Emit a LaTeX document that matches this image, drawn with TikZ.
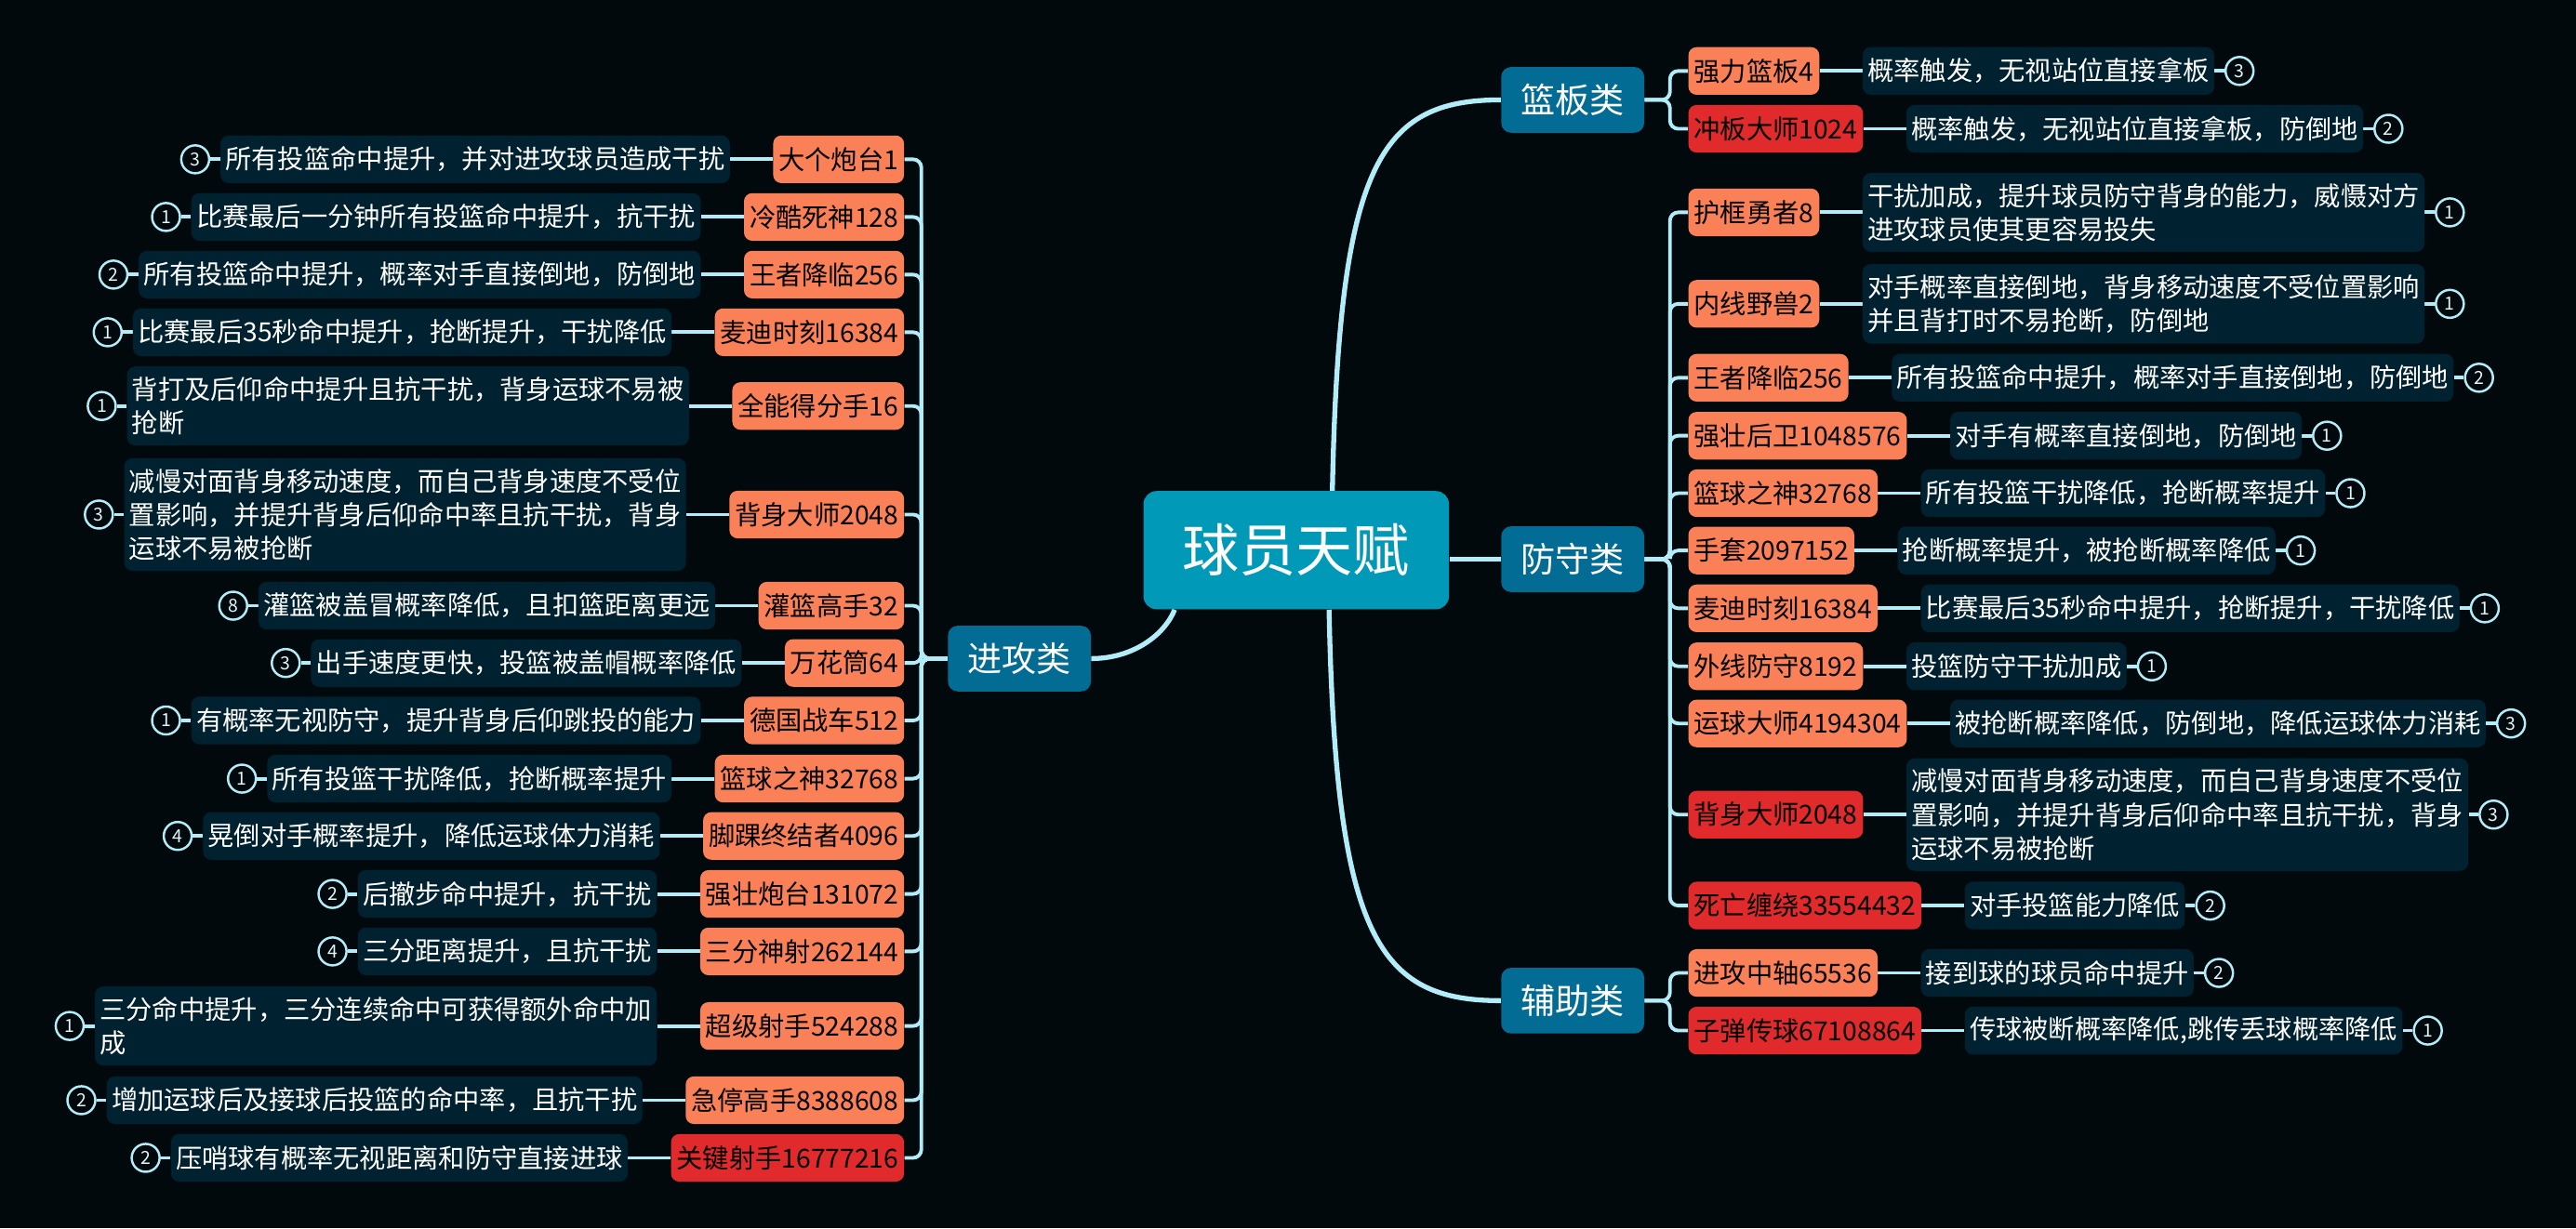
\documentclass[tikz,border=0pt]{standalone}
\usepackage{fontspec}
\setmainfont{Noto Sans CJK SC}
\usetikzlibrary{positioning,calc}
\definecolor{bgc}{RGB}{2,9,12}
\definecolor{linec}{RGB}{178,236,248}
\definecolor{orangec}{RGB}{250,128,87}
\definecolor{redc}{RGB}{224,42,43}
\definecolor{catc}{RGB}{2,108,148}
\definecolor{centc}{RGB}{0,153,184}
\definecolor{descc}{RGB}{0,34,48}
\definecolor{numtext}{RGB}{225,245,250}
\pgfdeclarelayer{back}
\pgfdeclarelayer{edges}
\pgfsetlayers{back,edges,main}
\begin{document}
\begin{tikzpicture}[x=1pt,y=-1pt,
  central/.style={fill=centc, rounded corners=8pt, text=white, minimum width=186pt, minimum height=72pt, inner sep=0pt, font=\fontsize{34.6}{40}\selectfont},
  cat/.style={fill=catc, rounded corners=6pt, text=white, minimum width=87pt, minimum height=40pt, inner sep=0pt, font=\fontsize{21}{25}\selectfont},
  tag/.style={rounded corners=5pt, text=black, minimum height=29pt, inner xsep=3.4pt, inner ysep=0pt, font=\fontsize{16}{20.5}\selectfont},
  otag/.style={tag, fill=orangec},
  rtag/.style={tag, fill=redc},
  desc/.style={fill=descc, rounded corners=5pt, text=white, inner xsep=3pt, inner ysep=6.3pt, minimum height=29pt, align=left, font=\fontsize{16}{20.5}\selectfont},
  num/.style={circle, draw=linec, line width=1.4pt, fill=bgc, text=numtext, minimum size=17pt, inner sep=0pt, font=\fontsize{11}{12}\selectfont},
  mainline/.style={draw=linec, line width=3pt},
  br/.style={draw=linec, line width=2.2pt, rounded corners=5pt}
]
\begin{pgfonlayer}{back}
\fill[bgc] (0,0) rectangle (1568,748);
\end{pgfonlayer}
\useasboundingbox (0,0) rectangle (1568,748);

% central and categories
\node[central] (c) at (789,335) {球员天赋};
\node[cat] (ban) at (957.3,60.8) {篮板类};
\node[cat] (def) at (957.3,340.5) {防守类};
\node[cat] (aux) at (957.3,609.3) {辅助类};
\node[cat] (att) at (620.5,401) {进攻类};

% ---- right side: 篮板类
\node[otag, anchor=west] (r1) at (1027.5,43.2) {强力篮板4};
\node[desc, right=26pt of r1] (rd1) {概率触发，无视站位直接拿板};
\node[num, right=6pt of rd1] (rn1) {3};
\node[rtag, anchor=west] (r2) at (1027.5,78.4) {冲板大师1024};
\node[desc, right=26pt of r2] (rd2) {概率触发，无视站位直接拿板，防倒地};
\node[num, right=6pt of rd2] (rn2) {2};

% ---- right side: 防守类
\node[otag, anchor=west] (r3) at (1027.5,129.3) {护框勇者8};
\node[desc, right=26pt of r3] (rd3) {干扰加成，提升球员防守背身的能力，威慑对方\\进攻球员使其更容易投失};
\node[num, right=6pt of rd3] (rn3) {1};
\node[otag, anchor=west] (r4) at (1027.5,185) {内线野兽2};
\node[desc, right=26pt of r4] (rd4) {对手概率直接倒地，背身移动速度不受位置影响\\并且背打时不易抢断，防倒地};
\node[num, right=6pt of rd4] (rn4) {1};
\node[otag, anchor=west] (r5) at (1027.5,230) {王者降临256};
\node[desc, right=26pt of r5] (rd5) {所有投篮命中提升，概率对手直接倒地，防倒地};
\node[num, right=6pt of rd5] (rn5) {2};
\node[otag, anchor=west] (r6) at (1027.5,265.3) {强壮后卫1048576};
\node[desc, right=26pt of r6] (rd6) {对手有概率直接倒地，防倒地};
\node[num, right=6pt of rd6] (rn6) {1};
\node[otag, anchor=west] (r7) at (1027.5,300.3) {篮球之神32768};
\node[desc, right=26pt of r7] (rd7) {所有投篮干扰降低，抢断概率提升};
\node[num, right=6pt of rd7] (rn7) {1};
\node[otag, anchor=west] (r8) at (1027.5,335.2) {手套2097152};
\node[desc, right=26pt of r8] (rd8) {抢断概率提升，被抢断概率降低};
\node[num, right=6pt of rd8] (rn8) {1};
\node[otag, anchor=west] (r9) at (1027.5,370.4) {麦迪时刻16384};
\node[desc, right=26pt of r9] (rd9) {比赛最后35秒命中提升，抢断提升，干扰降低};
\node[num, right=6pt of rd9] (rn9) {1};
\node[otag, anchor=west] (r10) at (1027.5,405.7) {外线防守8192};
\node[desc, right=26pt of r10] (rd10) {投篮防守干扰加成};
\node[num, right=6pt of rd10] (rn10) {1};
\node[otag, anchor=west] (r11) at (1027.5,440.5) {运球大师4194304};
\node[desc, right=26pt of r11] (rd11) {被抢断概率降低，防倒地，降低运球体力消耗};
\node[num, right=6pt of rd11] (rn11) {3};
\node[rtag, anchor=west] (r12) at (1027.5,496) {背身大师2048};
\node[desc, right=26pt of r12] (rd12) {减慢对面背身移动速度，而自己背身速度不受位\\置影响，并提升背身后仰命中率且抗干扰，背身\\运球不易被抢断};
\node[num, right=6pt of rd12] (rn12) {3};
\node[rtag, anchor=west] (r13) at (1027.5,551.4) {死亡缠绕33554432};
\node[desc, right=26pt of r13] (rd13) {对手投篮能力降低};
\node[num, right=6pt of rd13] (rn13) {2};

% ---- right side: 辅助类
\node[otag, anchor=west] (r14) at (1027.5,592.4) {进攻中轴65536};
\node[desc, right=26pt of r14] (rd14) {接到球的球员命中提升};
\node[num, right=6pt of rd14] (rn14) {2};
\node[rtag, anchor=west] (r15) at (1027.5,627.5) {子弹传球67108864};
\node[desc, right=26pt of r15] (rd15) {传球被断概率降低,跳传丢球概率降低};
\node[num, right=6pt of rd15] (rn15) {1};

% ---- left side: 进攻类
\node[otag, anchor=east] (l1) at (550.5,97) {大个炮台1};
\node[desc, left=26pt of l1] (ld1) {所有投篮命中提升，并对进攻球员造成干扰};
\node[num, left=6pt of ld1] (ln1) {3};
\node[otag, anchor=east] (l2) at (550.5,132.1) {冷酷死神128};
\node[desc, left=26pt of l2] (ld2) {比赛最后一分钟所有投篮命中提升，抗干扰};
\node[num, left=6pt of ld2] (ln2) {1};
\node[otag, anchor=east] (l3) at (550.5,167.2) {王者降临256};
\node[desc, left=26pt of l3] (ld3) {所有投篮命中提升，概率对手直接倒地，防倒地};
\node[num, left=6pt of ld3] (ln3) {2};
\node[otag, anchor=east] (l4) at (550.5,202.3) {麦迪时刻16384};
\node[desc, left=26pt of l4] (ld4) {比赛最后35秒命中提升，抢断提升，干扰降低};
\node[num, left=6pt of ld4] (ln4) {1};
\node[otag, anchor=east] (l5) at (550.5,247.2) {全能得分手16};
\node[desc, left=26pt of l5] (ld5) {背打及后仰命中提升且抗干扰，背身运球不易被\\抢断};
\node[num, left=6pt of ld5] (ln5) {1};
\node[otag, anchor=east] (l6) at (550.5,313.3) {背身大师2048};
\node[desc, left=26pt of l6] (ld6) {减慢对面背身移动速度，而自己背身速度不受位\\置影响，并提升背身后仰命中率且抗干扰，背身\\运球不易被抢断};
\node[num, left=6pt of ld6] (ln6) {3};
\node[otag, anchor=east] (l7) at (550.5,368.8) {灌篮高手32};
\node[desc, left=26pt of l7] (ld7) {灌篮被盖冒概率降低，且扣篮距离更远};
\node[num, left=6pt of ld7] (ln7) {8};
\node[otag, anchor=east] (l8) at (550.5,403.7) {万花筒64};
\node[desc, left=26pt of l8] (ld8) {出手速度更快，投篮被盖帽概率降低};
\node[num, left=6pt of ld8] (ln8) {3};
\node[otag, anchor=east] (l9) at (550.5,438.7) {德国战车512};
\node[desc, left=26pt of l9] (ld9) {有概率无视防守，提升背身后仰跳投的能力};
\node[num, left=6pt of ld9] (ln9) {1};
\node[otag, anchor=east] (l10) at (550.5,474.1) {篮球之神32768};
\node[desc, left=26pt of l10] (ld10) {所有投篮干扰降低，抢断概率提升};
\node[num, left=6pt of ld10] (ln10) {1};
\node[otag, anchor=east] (l11) at (550.5,509) {脚踝终结者4096};
\node[desc, left=26pt of l11] (ld11) {晃倒对手概率提升，降低运球体力消耗};
\node[num, left=6pt of ld11] (ln11) {4};
\node[otag, anchor=east] (l12) at (550.5,544.3) {强壮炮台131072};
\node[desc, left=26pt of l12] (ld12) {后撤步命中提升，抗干扰};
\node[num, left=6pt of ld12] (ln12) {2};
\node[otag, anchor=east] (l13) at (550.5,579.3) {三分神射262144};
\node[desc, left=26pt of l13] (ld13) {三分距离提升，且抗干扰};
\node[num, left=6pt of ld13] (ln13) {4};
\node[otag, anchor=east] (l14) at (550.5,624.7) {超级射手524288};
\node[desc, left=26pt of l14] (ld14) {三分命中提升，三分连续命中可获得额外命中加\\成};
\node[num, left=6pt of ld14] (ln14) {1};
\node[otag, anchor=east] (l15) at (550.5,669.9) {急停高手8388608};
\node[desc, left=26pt of l15] (ld15) {增加运球后及接球后投篮的命中率，且抗干扰};
\node[num, left=6pt of ld15] (ln15) {2};
\node[rtag, anchor=east] (l16) at (550.5,705) {关键射手16777216};
\node[desc, left=26pt of l16] (ld16) {压哨球有概率无视距离和防守直接进球};
\node[num, left=6pt of ld16] (ln16) {2};

% ---- connectors
\begin{pgfonlayer}{edges}
\draw[mainline] ($(c.north)+(22,0)$) .. controls +(4,-199) and ($(ban.west)+(-74,0)$) .. (ban.west);
\draw[mainline] ($(c.south)+(20,0)$) .. controls +(4,201) and ($(aux.west)+(-74,0)$) .. (aux.west);
\draw[mainline] ($(c.south)+(-74,0)$) .. controls +(-6,15) and ($(att.east)+(26,0)$) .. (att.east);
\draw[mainline] (c.east |- def.west) -- (def.west);

\coordinate (bj) at ($(ban.east)+(15.5,0)$);
\coordinate (dj) at ($(def.east)+(15.5,0)$);
\coordinate (xj) at ($(aux.east)+(15.5,0)$);
\coordinate (aj) at ($(att.west)+(-16,0)$);

\foreach \i in {1,2} {\draw[br] (ban.east) -- (bj) |- (r\i.west);}
\foreach \i in {3,...,13} {\draw[br] (def.east) -- (dj) |- (r\i.west);}
\foreach \i in {14,15} {\draw[br] (aux.east) -- (xj) |- (r\i.west);}
\foreach \i in {1,...,16} {\draw[br] (att.west) -- (aj) |- (l\i.east);}

\foreach \i in {1,...,15} {
  \draw[br] (r\i.east) -- (rd\i.west);
  \draw[br] (rd\i.east) -- (rn\i.west);
}
\foreach \i in {1,...,16} {
  \draw[br] (l\i.west) -- (ld\i.east);
  \draw[br] (ld\i.west) -- (ln\i.east);
}
\end{pgfonlayer}
\end{tikzpicture}
\end{document}
